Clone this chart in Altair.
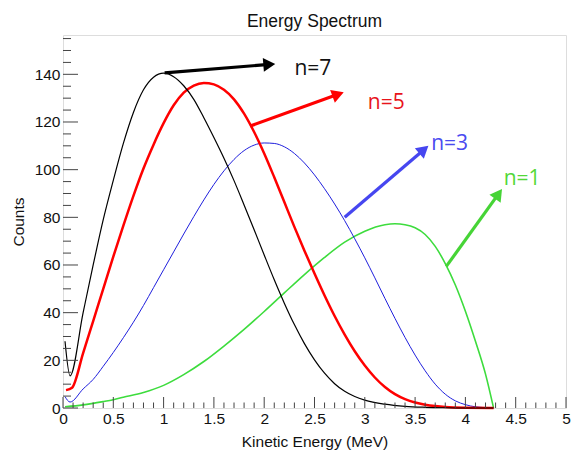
import math
import altair as alt
import pandas as pd
import numpy as np

# ---------------- data ----------------
n7_x = [0.02, 0.07, 0.2, 0.3, 0.4, 0.5, 0.6, 0.7, 0.8, 0.9, 1.0, 1.1, 1.2, 1.3, 1.4, 1.5, 1.6, 1.7, 1.8,
        1.9, 2.0, 2.1, 2.2, 2.3, 2.4, 2.5, 2.6, 2.7, 2.8, 2.9, 3.0, 3.2, 3.4, 3.6, 3.8, 4.0, 4.28]
n7_y = [28, 13.5, 40, 60, 79, 95.5, 111, 124, 133.5, 138.8, 140.5, 139, 135.2, 129.5, 121.8, 113.5, 104.8,
        95.4, 85.2, 74.8, 64.2, 53.8, 44, 35, 27, 20.2, 14.6, 10.2, 7, 4.8, 3.3, 1.6, 0.7, 0.3, 0.1, 0, 0]

n5_x = [0.03, 0.09, 0.2, 0.3, 0.4, 0.5, 0.6, 0.7, 0.8, 0.9, 1.0, 1.1, 1.2, 1.3, 1.4, 1.5, 1.6, 1.7, 1.8,
        1.9, 2.0, 2.1, 2.2, 2.3, 2.4, 2.5, 2.6, 2.7, 2.8, 2.9, 3.0, 3.1, 3.2, 3.3, 3.4, 3.5, 3.6, 3.7,
        3.8, 4.0, 4.28]
n5_y = [7.5, 8.5, 23, 36.5, 50, 63.5, 76.5, 89, 100.5, 110.5, 119.5, 127, 132.3, 135.3, 136.4, 135.8, 133.5,
        129.5, 123.5, 115.8, 106.8, 96.8, 86.4, 76, 66, 56.4, 47.2, 38.6, 30.8, 23.8, 17.8, 12.8, 8.8,
        5.8, 3.7, 2.3, 1.4, 0.8, 0.4, 0.1, 0]

n3_x = [0.02, 0.07, 0.2, 0.3, 0.4, 0.5, 0.6, 0.7, 0.8, 0.9, 1.0, 1.1, 1.2, 1.3, 1.4, 1.5, 1.6, 1.7, 1.8,
        1.9, 2.0, 2.1, 2.2, 2.3, 2.4, 2.5, 2.6, 2.7, 2.8, 2.9, 3.0, 3.1, 3.2, 3.3, 3.4, 3.5, 3.6, 3.7,
        3.8, 3.9, 4.0, 4.1, 4.28]
n3_y = [4.8, 2.5, 8, 12, 17.5, 23.3, 29.5, 36, 43, 50.5, 58, 65.5, 73, 80.3, 87.3, 93.8, 99.5, 104.3, 108,
        110.3, 111.2, 111, 109.6, 106.8, 102.8, 97.8, 92, 85.6, 78.6, 71, 63, 54.6, 46, 37.6, 29.6, 22.2, 15.6,
        10, 5.8, 3, 1.4, 0.5, 0]

n1_x = [0.02, 0.2, 0.4, 0.5, 0.6, 0.8, 1.0, 1.2, 1.4, 1.6, 1.8, 2.0, 2.2, 2.4, 2.6, 2.8, 3.0, 3.2, 3.3,
        3.4, 3.5, 3.6, 3.7, 3.8, 3.9, 4.0, 4.1, 4.2, 4.28]
n1_y = [0.5, 1.3, 2.7, 3.5, 4.5, 6.5, 9.5, 14, 19.5, 26, 33, 40.5, 48.3, 56, 63.2, 69.6, 74.2, 76.9, 77.3,
        76.9, 75.6, 72.8, 67.8, 60.6, 51.6, 40.6, 28, 14.2, 0]

series_names = ["n=1", "n=3", "n=5", "n=7"]
series_x = [n1_x, n3_x, n5_x, n7_x]
series_y = [n1_y, n3_y, n5_y, n7_y]

# annotation arrows (data coordinates): start and tip
arrow_x1 = [1.01, 1.86, 2.80, 3.81]
arrow_y1 = [140.6, 118.3, 80.0, 59.4]
arrow_x2 = [2.12, 2.80, 3.64, 4.37]
arrow_y2 = [144.4, 132.6, 110.3, 92.2]
arrow_names = ["n=7", "n=5", "n=3", "n=1"]

# annotation label anchor (left, middle)
label_x = [2.30, 3.03, 3.66, 4.38]
label_y = [142.3, 128.0, 110.7, 96.2]

x_major = [0, 0.5, 1, 1.5, 2, 2.5, 3, 3.5, 4, 4.5, 5]
y_major = [0, 20, 40, 60, 80, 100, 120, 140]

# ---------------- styling ----------------
W, H = 503, 373
X_MAX, Y_MAX = 5.0, 156.5
curve_colors = {"n=7": "#000000", "n=5": "#ff0000", "n=3": "#1f1fdd", "n=1": "#3ddc3d"}
curve_widths = {"n=7": 1.2, "n=5": 2.5, "n=3": 1.0, "n=1": 1.6}
arrow_colors = {"n=7": "#000000", "n=5": "#ff0000", "n=3": "#4646f0", "n=1": "#46d436"}
label_colors = {"n=7": "#111111", "n=5": "#e8141b", "n=3": "#4a4af0", "n=1": "#52d838"}
FRAME = "#444444"
TXT = "#111111"

xs = alt.Scale(domain=[0, X_MAX], nice=False, zero=False)
ys = alt.Scale(domain=[0, Y_MAX], nice=False, zero=False)

X_AXIS = alt.Axis(
    values=x_major, format="~g", title="Kinetic Energy (MeV)", labelPadding=3,
    labelFont="Liberation Sans", labelFontSize=15.5, labelColor=TXT,
    titleFont="Liberation Sans", titleFontSize=15.5, titleFontWeight="normal", titleColor=TXT,
    titleY=33, titleBaseline="middle", ticks=False, domain=False, grid=False,
    labelFlush=False, labelOverlap=False)
Y_AXIS = alt.Axis(
    values=y_major, title="Counts", labelPadding=3,
    labelFont="Liberation Sans", labelFontSize=15.5, labelColor=TXT,
    titleFont="Liberation Sans", titleFontSize=15.5, titleFontWeight="normal", titleColor=TXT,
    titleX=-45, titleY=H / 2, titleAngle=270, titleAlign="center", titleBaseline="middle",
    ticks=False, domain=False, grid=False, labelFlush=False, labelOverlap=False)


def X(field):
    return alt.X(field, scale=xs, axis=X_AXIS)


def Y(field):
    return alt.Y(field, scale=ys, axis=Y_AXIS)


x_minor = [v for v in np.round(np.arange(0, 5.0001, 0.1), 2).tolist() if round(v * 2) != v * 2]
y_minor = [v for v in range(0, 160, 5) if v % 20 != 0 and v <= Y_MAX]

layers = []

# curves
for name, sx, sy in zip(series_names, series_x, series_y):
    df = pd.DataFrame({"x": sx, "y": sy})
    layers.append(alt.Chart(df).mark_line(
        color=curve_colors[name], strokeWidth=curve_widths[name], interpolate="monotone"
    ).encode(x=X("x:Q"), y=Y("y:Q")))

# inward ticks
xt = pd.DataFrame({"x": x_major})
xtm = pd.DataFrame({"x": x_minor})
ytk = pd.DataFrame({"y": y_major})
ytm = pd.DataFrame({"y": y_minor})
layers.append(alt.Chart(xt).mark_rule(color=FRAME, strokeWidth=1).encode(
    x=X("x:Q"), y=alt.value(H), y2=alt.value(H - 11)))
layers.append(alt.Chart(xtm).mark_rule(color=FRAME, strokeWidth=1).encode(
    x=X("x:Q"), y=alt.value(H), y2=alt.value(H - 5.5)))
layers.append(alt.Chart(ytk).mark_rule(color=FRAME, strokeWidth=1).encode(
    y=Y("y:Q"), x=alt.value(0), x2=alt.value(15)))
layers.append(alt.Chart(ytm).mark_rule(color=FRAME, strokeWidth=1).encode(
    y=Y("y:Q"), x=alt.value(0), x2=alt.value(8)))

# arrows
pxx, pxy = W / X_MAX, H / Y_MAX
for name, x1, y1, x2, y2 in zip(arrow_names, arrow_x1, arrow_y1, arrow_x2, arrow_y2):
    dx = (x2 - x1) * pxx
    dy = -(y2 - y1) * pxy
    L = math.hypot(dx, dy)
    ux, uy = dx / L, dy / L
    ang = math.degrees(math.atan2(dx, -dy)) % 360
    back = 7.0
    hx = x2 - back * ux / pxx
    hy = y2 + back * uy / pxy
    seg = pd.DataFrame({"x": [x1], "y": [y1], "x2": [hx], "y2": [hy]})
    layers.append(alt.Chart(seg).mark_rule(color=arrow_colors[name], strokeWidth=3.2).encode(
        x=X("x:Q"), y=Y("y:Q"), x2="x2:Q", y2="y2:Q"))
    head = pd.DataFrame({"x": [hx], "y": [hy]})
    layers.append(alt.Chart(head).mark_point(
        shape="triangle-up", filled=True, size=190, angle=ang, opacity=1,
        color=arrow_colors[name], strokeWidth=0
    ).encode(x=X("x:Q"), y=Y("y:Q")))

# labels
for name, lx, ly in zip(arrow_names, label_x, label_y):
    ldf = pd.DataFrame({"x": [lx], "y": [ly], "t": [name]})
    layers.append(alt.Chart(ldf).mark_text(
        align="left", baseline="middle", font="Open Sans", fontSize=21, color=label_colors[name]
    ).encode(x=X("x:Q"), y=Y("y:Q"), text="t:N"))

chart = alt.layer(*layers).properties(
    width=W, height=H,
    title=alt.TitleParams("Energy Spectrum", font="Liberation Sans", fontSize=17.5, fontWeight="normal",
                          color=TXT, anchor="middle", frame="group", offset=5),
    autosize=alt.AutoSizeParams(type="none"),
    padding={"left": 63, "top": 35, "right": 5, "bottom": 42},
).configure_view(stroke=FRAME, strokeWidth=1).configure(background="white")

chart.save("out.html", embed_options={"renderer": "svg", "actions": False})
